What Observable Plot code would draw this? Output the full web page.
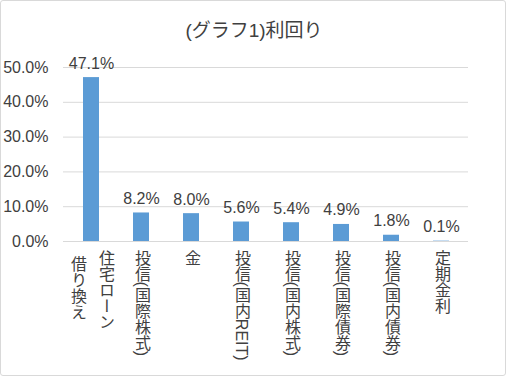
<!DOCTYPE html>
<html>
<head>
<meta charset="utf-8">
<script src="https://cdn.jsdelivr.net/npm/d3@7"></script>
<script src="https://cdn.jsdelivr.net/npm/@observablehq/plot@0.6"></script>
<style>
  body { margin: 0; background: #fff; }
  #chart { position: relative; width: 506px; height: 376px; overflow: hidden; background: #fff;
    font-family: "Liberation Sans", Arial, "Noto Sans CJK JP", sans-serif; color: #404040; }
  #frame { position: absolute; left: 0; top: 0; right: 0; bottom: 0; border: 1px solid #d9d9d9; border-radius: 3px; pointer-events: none; }
  #title { height: 50px; box-sizing: border-box; padding-top: 20px; line-height: 22px; font-size: 19px; text-align: center; padding-left: 2px; }
  svg { display: block; }
  g.xlab text { writing-mode: vertical-rl; text-orientation: mixed; }
</style>
</head>
<body>
<div id="chart">
  <div id="title">(グラフ1)利回り</div>
  <div id="plot"></div>
  <div id="frame"></div>
</div>
<script>
const categories = ["借り換え\n住宅ローン", "投信(国際株式)", "金", "投信(国内REIT)", "投信(国内株式)", "投信(国際債券)", "投信(国内債券)", "定期金利"];
const values = [47.1, 8.2, 8.0, 5.6, 5.4, 4.9, 1.8, 0.1];
const yTicks = [0, 10, 20, 30, 40, 50];

const data = categories.map((c, i) => ({cat: c, value: values[i]}));
const cols = data.flatMap(d => {
  const parts = d.cat.split("\n");
  return parts.map((t, j) => ({cat: d.cat, text: t, j, n: parts.length}));
});

const colMarks = [];
const groups = d3.groups(cols, c => c.n + "-" + c.j);
for (const [key, arr] of groups) {
  const {n, j} = arr[0];
  const dx = (j - (n - 1) / 2) * 28;
  const dy = (n > 1 && j === 0) ? 14 : 8;
  colMarks.push(Plot.text(arr, {
    x: "cat", text: "text", frameAnchor: "bottom", dx, dy,
    textAnchor: "start", lineAnchor: "bottom", fontSize: 16, fill: "#404040", className: "xlab"
  }));
}

const chart = Plot.plot({
  width: 506,
  height: 326,
  marginLeft: 63,
  marginRight: 38,
  marginTop: 17,
  marginBottom: 135,
  style: {fontFamily: '"Liberation Sans", Arial, "Noto Sans CJK JP", sans-serif', fontSize: "16px", color: "#404040", background: "transparent"},
  x: {domain: categories, axis: null, paddingInner: 0.68, paddingOuter: 0.34},
  y: {domain: [0, 50], axis: null},
  marks: [
    Plot.gridY(yTicks, {stroke: "#d9d9d9", strokeOpacity: 1}),
    Plot.ruleY([0], {stroke: "#d9d9d9"}),
    Plot.axisY(yTicks, {tickSize: 0, tickPadding: 15, tickFormat: d => d.toFixed(1) + "%", fontSize: 16, fill: "#404040", label: null}),
    Plot.barY(data, {x: "cat", y: "value", fill: "#5B9BD5"}),
    Plot.text(data, {x: "cat", y: "value", text: d => d.value.toFixed(1) + "%", lineAnchor: "bottom", dy: -9, fontSize: 16, fill: "#404040"}),
    ...colMarks
  ]
});

document.getElementById("plot").appendChild(chart);
chart.querySelectorAll('g.xlab text').forEach(t => {
  t.setAttribute("writing-mode", "vertical-rl");
  t.removeAttribute("y");
  t.setAttribute("text-anchor", "start");
});
</script>
</body>
</html>
